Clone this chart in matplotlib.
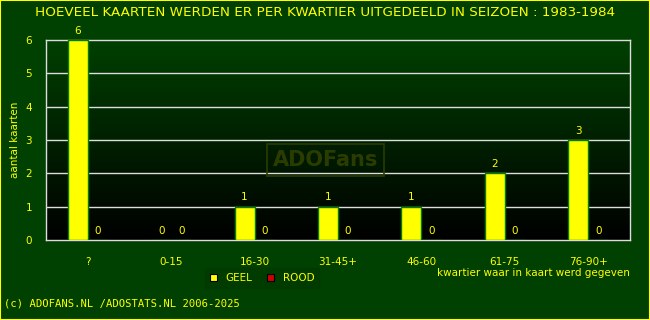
import numpy as np
import matplotlib.pyplot as plt
from matplotlib.patches import Rectangle
from matplotlib.colors import LinearSegmentedColormap

categories = ['?', '0-15', '16-30', '31-45+', '46-60', '61-75', '76-90+']
geel = [6, 0, 1, 1, 1, 2, 3]
rood = [0, 0, 0, 0, 0, 0, 0]
yticks = [0, 1, 2, 3, 4, 5, 6]

bg = '#004000'
yel = '#ffff00'

fig = plt.figure(figsize=(6.5, 3.2), dpi=100, facecolor=bg)
# yellow border around the whole picture
fig.patches.append(Rectangle((0, 0), 1, 1, transform=fig.transFigure,
                             fill=False, edgecolor=yel, linewidth=1.5))

ax = fig.add_axes([46/650, 1-240/320, 584/650, 200/320])
ax.set_xlim(-0.5, 6.5)
ax.set_ylim(0, 6)

# gradient background: dark green at top to black at bottom
grad = np.linspace(0, 1, 256).reshape(-1, 1)
cm = LinearSegmentedColormap.from_list('g', ['#000000', '#004000'])
ax.imshow(grad, extent=[-0.5, 6.5, 0, 6], origin='lower', aspect='auto',
          cmap=cm, zorder=0)

for t in yticks[1:-1]:
    ax.axhline(t, color='#dddddd', linewidth=1, zorder=1)

x = np.arange(len(categories))
w = 0.24
ax.bar(x - w/2, geel, w, color=yel, edgecolor='#008000', linewidth=1, zorder=3)
ax.bar(x + w/2, rood, w, color='#cc0000', edgecolor='#008000', linewidth=1, zorder=3)

for i in range(len(categories)):
    ax.annotate(str(geel[i]), (x[i] - w/2, geel[i]), xytext=(0, 3),
                textcoords='offset points', ha='center', va='bottom',
                color=yel, fontsize=7.5, zorder=4)
    ax.annotate(str(rood[i]), (x[i] + w/2, rood[i]), xytext=(0, 3),
                textcoords='offset points', ha='center', va='bottom',
                color=yel, fontsize=7.5, zorder=4)

# watermark
ax.text(2.85, 2.4, 'ADOFans', ha='center', va='center', fontsize=15,
        fontweight='bold', color='#2b3c00', zorder=2,
        bbox=dict(boxstyle='square,pad=0.3', fc='none', ec='#2b3c00', lw=1.2))

for s in ax.spines.values():
    s.set_color('#dddddd')
    s.set_linewidth(1)

ax.set_xticks(x)
ax.set_xticklabels(categories)
ax.set_yticks(yticks)
ax.tick_params(axis='both', length=0, colors=yel, labelsize=7.5)
ax.tick_params(axis='x', pad=12)
ax.tick_params(axis='y', pad=10)
ax.set_ylabel('aantal kaarten', color=yel, fontsize=7.5, labelpad=4)

fig.text(0.5, 1-12/320, 'HOEVEEL KAARTEN WERDEN ER PER KWARTIER UITGEDEELD IN SEIZOEN : 1983-1984',
         ha='center', va='center', color=yel, fontsize=9.7)
fig.text(630/650, 1-273/320, 'kwartier waar in kaart werd gegeven',
         ha='right', va='center', color=yel, fontsize=7.5)
fig.text(4/650, 1-303/320, '(c) ADOFANS.NL /ADOSTATS.NL 2006-2025',
         ha='left', va='center', color=yel, fontsize=7.6, family='DejaVu Sans Mono')

# legend
h1 = Rectangle((0, 0), 1, 1, fc=yel, ec='black', lw=0.8)
h2 = Rectangle((0, 0), 1, 1, fc='#cc0000', ec='black', lw=0.8)
leg = fig.legend([h1, h2], ['GEEL', 'ROOD'], loc='center', ncol=2,
                 bbox_to_anchor=(262/650, 1-278/320), frameon=True,
                 fontsize=7.5, handlelength=0.7, handleheight=0.7,
                 columnspacing=1.4, handletextpad=0.8, borderpad=0.5)
leg.get_frame().set_facecolor('#003a00')
leg.get_frame().set_edgecolor('#003a00')
for t in leg.get_texts():
    t.set_color(yel)

fig.savefig('out.png', dpi=100, facecolor=bg)
